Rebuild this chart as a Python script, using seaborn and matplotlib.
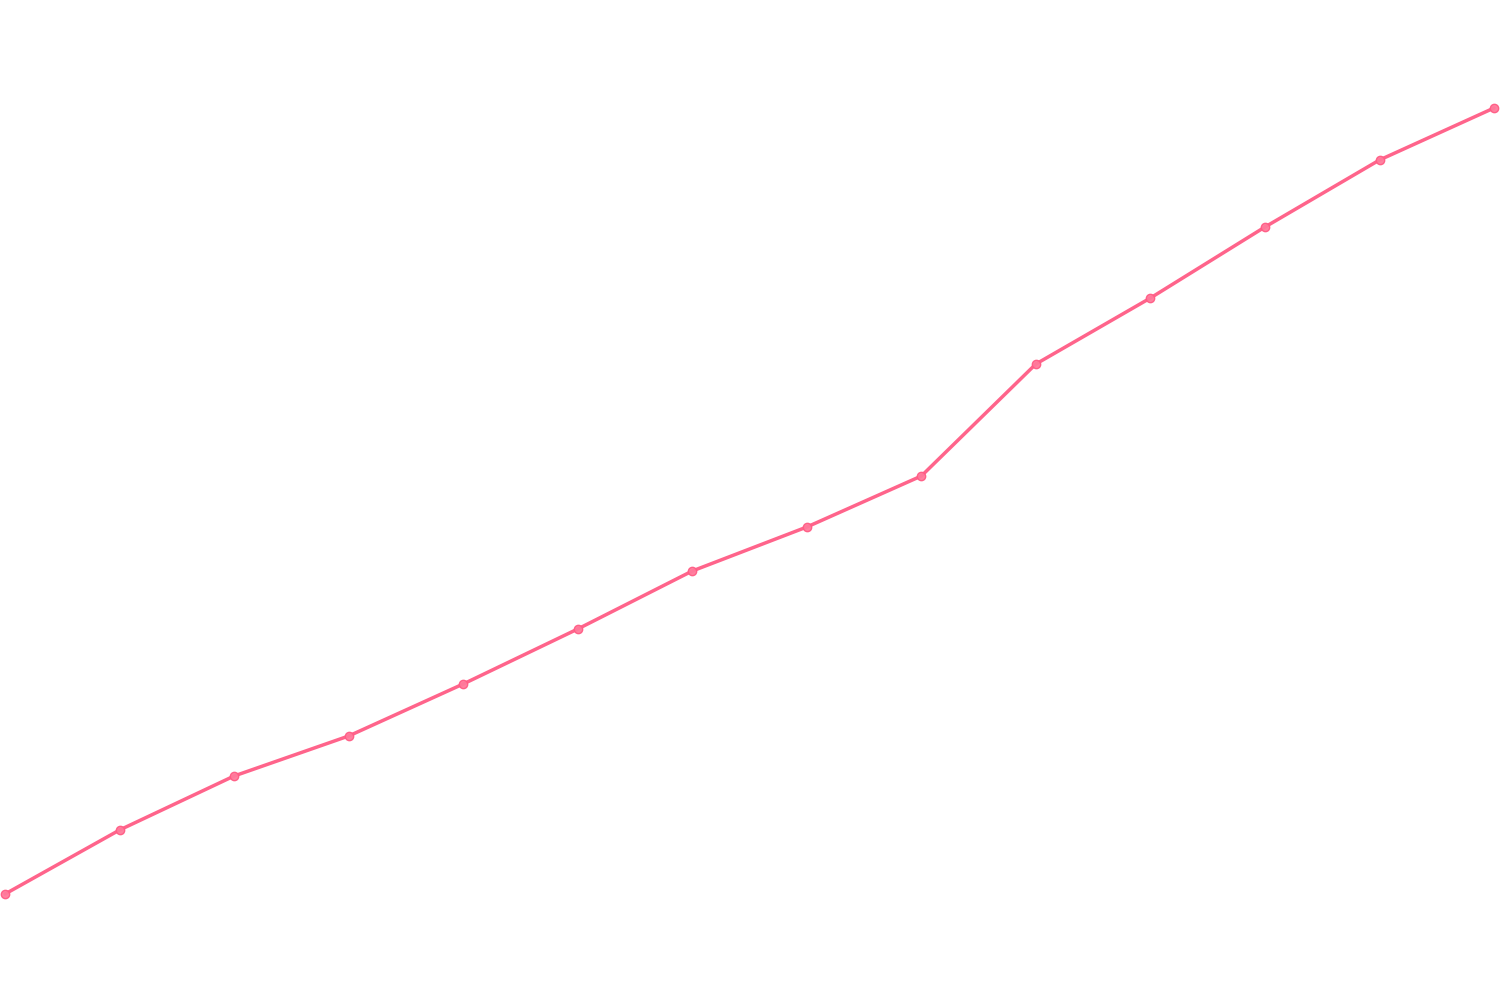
import numpy as np
import pandas as pd
import seaborn as sns
import matplotlib.pyplot as plt

# values (arbitrary units, bottom of frame = 0, top = 1000)
step = list(range(14))
value = [106, 170, 224, 264, 316, 371, 429, 473, 524, 636, 702, 773, 840, 892]

df = pd.DataFrame({'step': step, 'value': value})

sns.set_theme(style='white')
fig = plt.figure(figsize=(15, 10), dpi=100)
ax = fig.add_axes([0, 0, 1, 1])

sns.lineplot(data=df, x='step', y='value', ax=ax, color='#ff5c85',
             linewidth=2.5, marker='o', markersize=6,
             markerfacecolor='#ff7a9b', markeredgecolor='#ff5c85',
             markeredgewidth=1, alpha=0.95)

ax.set_xlim(-0.044, 13.052)
ax.set_ylim(0, 1000)
ax.set_axis_off()

fig.savefig('out.png', dpi=100, facecolor='white')
